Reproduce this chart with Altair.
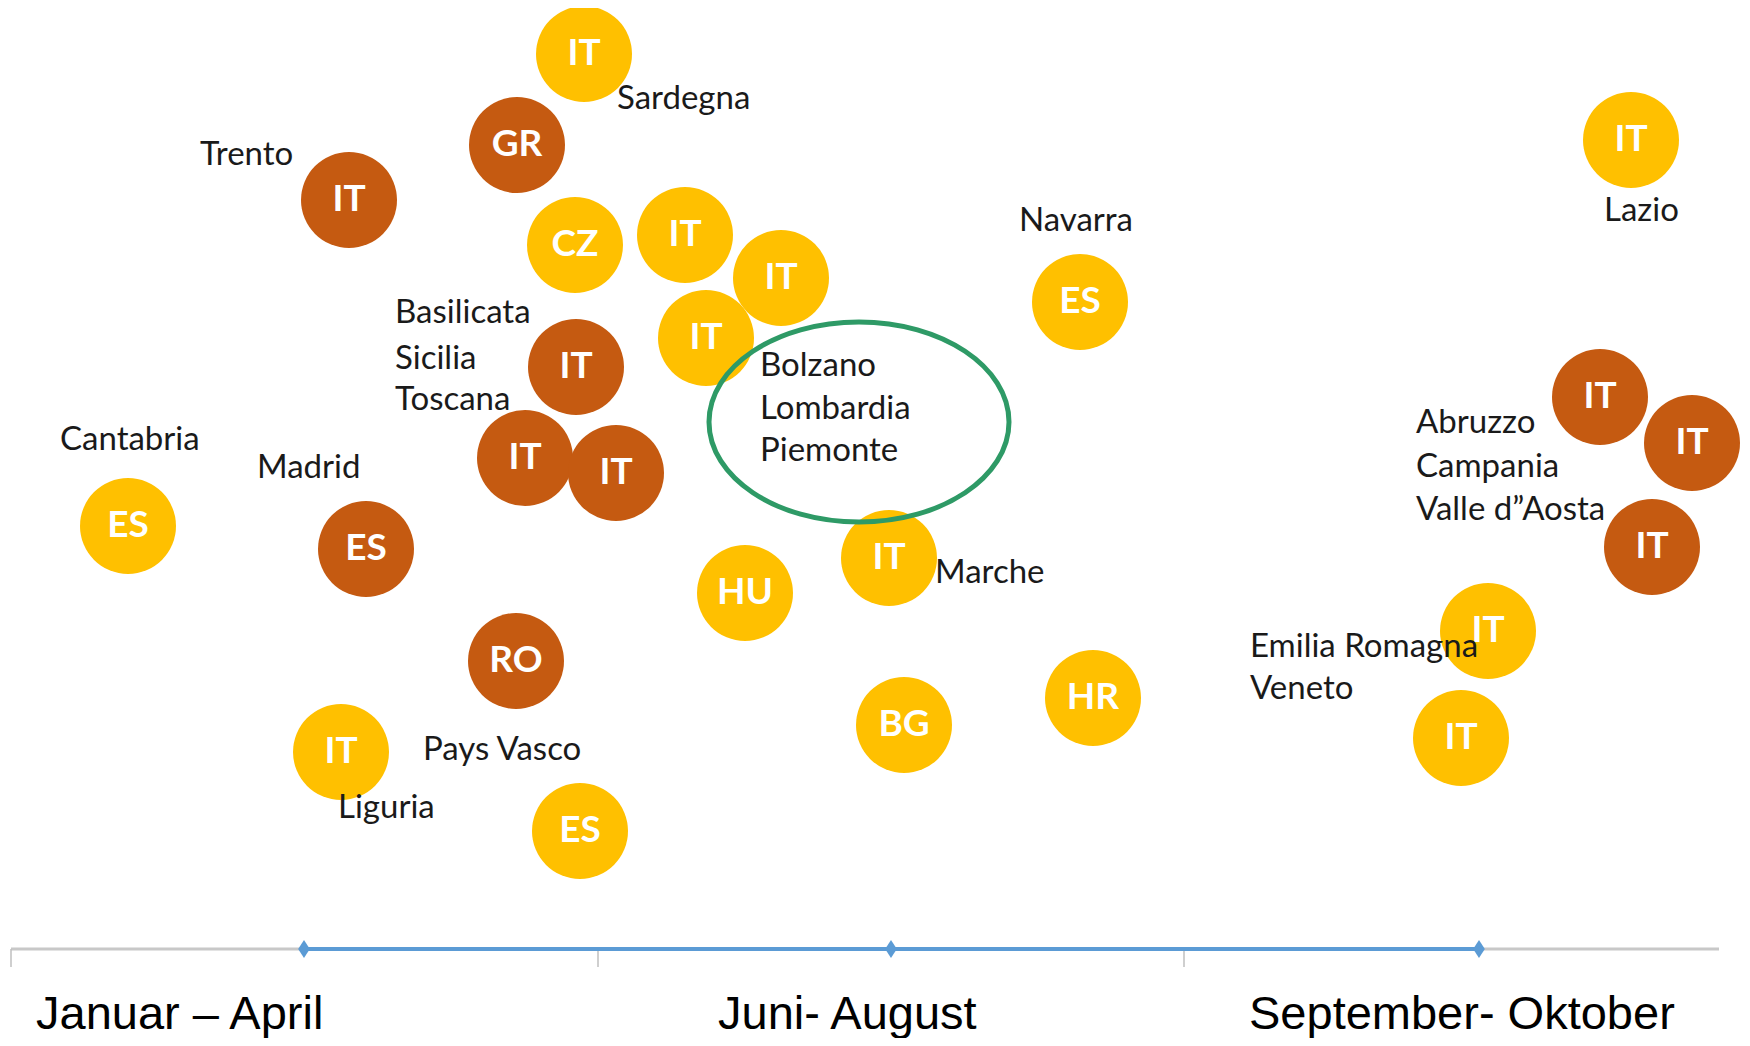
import altair as alt
import pandas as pd

# ---- data (positions on an abstract canvas scale) ----
bubble_code = ["IT", "GR", "IT", "CZ", "IT", "IT", "IT", "IT", "IT", "IT",
               "ES", "ES", "HU", "IT", "RO", "IT", "ES", "BG", "HR", "ES",
               "IT", "IT", "IT", "IT", "IT", "IT"]
bubble_group = ["gold", "brown", "brown", "gold", "gold", "gold", "gold", "brown", "brown", "brown",
                "gold", "brown", "gold", "gold", "brown", "gold", "gold", "gold", "gold", "gold",
                "gold", "brown", "brown", "brown", "gold", "gold"]
bubble_x = [584, 517, 349, 575, 685, 781, 706, 576, 525, 616,
            128, 366, 745, 889, 516, 341, 580, 904, 1093, 1080,
            1631, 1600, 1692, 1652, 1488, 1461]
bubble_y = [54, 145, 200, 245, 235, 278, 338, 367, 458, 473,
            526, 549, 593, 558, 661, 752, 831, 725, 698, 302,
            140, 397, 443, 547, 631, 738]

region_text = ["Sardegna", "Trento", "Navarra", "Lazio",
               "Basilicata", "Sicilia", "Toscana",
               "Bolzano", "Lombardia", "Piemonte",
               "Cantabria", "Madrid",
               "Abruzzo", "Campania", "Valle d\u201dAosta",
               "Marche", "Emilia Romagna", "Veneto",
               "Pays Vasco", "Liguria"]
region_x = [617, 200, 1019, 1604,
            395, 395, 395,
            760, 760, 760,
            60, 257,
            1416, 1416, 1416,
            935, 1250, 1250,
            423, 338]
region_y = [99, 155, 221, 211,
            313, 359, 400,
            366, 409, 451,
            440, 468,
            423, 467, 510,
            573, 647, 689,
            750, 808]

period_labels = ["Januar \u2013 April", "Juni- August", "September- Oktober"]
period_label_x = [36, 718, 1249]
period_marker_x = [304, 891, 1479]
tick_x = [11, 598, 1184]
axis_start, axis_end = 11, 1719
axis_y = 949

ellipse_x, ellipse_y = [859], [422]

# ---- scales ----
W, H = 1734, 1030
xs = alt.Scale(domain=[8, 8 + W], nice=False, zero=False)
ys = alt.Scale(domain=[8, 8 + H], nice=False, zero=False, reverse=True)

def X(f):
    return alt.X(f, type="quantitative", scale=xs, axis=None)

def Y(f):
    return alt.Y(f, type="quantitative", scale=ys, axis=None)

bub = pd.DataFrame({"code": bubble_code, "group": bubble_group, "x": bubble_x, "y": bubble_y})
reg = pd.DataFrame({"t": region_text, "x": region_x, "y": region_y})
per = pd.DataFrame({"t": period_labels, "x": period_label_x, "y": [1029] * 3})
mk = pd.DataFrame({"x": period_marker_x, "y": [axis_y] * 3})
tk = pd.DataFrame({"x": tick_x, "y": [axis_y] * 3, "y2": [axis_y + 18] * 3})
ax_gray = pd.DataFrame({"x": [axis_start], "x2": [axis_end], "y": [axis_y]})
ax_blue = pd.DataFrame({"x": [period_marker_x[0]], "x2": [period_marker_x[-1]], "y": [axis_y]})
ell = pd.DataFrame({"x": ellipse_x, "y": ellipse_y})

color = alt.Color("group:N", scale=alt.Scale(domain=["gold", "brown"], range=["#FFC000", "#C55A11"]), legend=None)

circles = alt.Chart(bub).mark_circle(size=96 * 96, opacity=1).encode(x=X("x"), y=Y("y"), color=color)
codes = alt.Chart(bub).mark_text(font="Lato", fontWeight="bold", fontSize=37, color="white",
                                 baseline="middle", align="center").encode(x=X("x"), y=Y("y"), text="code:N")

labels = alt.Chart(reg).mark_text(font="Lato", fontSize=33, color="#1a1a1a",
                                  baseline="middle", align="left").encode(x=X("x"), y=Y("y"), text="t:N")

ellipse = alt.Chart(ell).mark_point(
    shape="M-1,0 A1,0.667 0 1,1 1,0 A1,0.667 0 1,1 -1,0 Z",
    size=300 * 300, filled=False, stroke="#2E9A66", strokeWidth=5, opacity=1
).encode(x=X("x"), y=Y("y"))

gray_line = alt.Chart(ax_gray).mark_rule(color="#C8C8C8", strokeWidth=3).encode(x=X("x"), x2="x2", y=Y("y"))
ticks = alt.Chart(tk).mark_rule(color="#BFBFBF", strokeWidth=1.5).encode(x=X("x"), y=Y("y"), y2="y2")
blue_line = alt.Chart(ax_blue).mark_rule(color="#5B9BD5", strokeWidth=4).encode(x=X("x"), x2="x2", y=Y("y"))
diamonds = alt.Chart(mk).mark_point(shape="M0,-1L0.65,0L0,1L-0.65,0Z", size=18 * 18, filled=True,
                                    color="#5B9BD5", opacity=1).encode(x=X("x"), y=Y("y"))
periods = alt.Chart(per).mark_text(font="Liberation Sans", fontSize=47, color="black",
                                   baseline="alphabetic", align="left").encode(x=X("x"), y=Y("y"), text="t:N")

chart = alt.layer(gray_line, ticks, blue_line, diamonds, circles, codes, labels, ellipse, periods).properties(
    width=W, height=H, autosize=alt.AutoSizeParams(type="none"), padding=0, background="white"
).configure_view(stroke="transparent", strokeWidth=0)

chart.save("out.html", embed_options={"renderer": "svg", "actions": False})
